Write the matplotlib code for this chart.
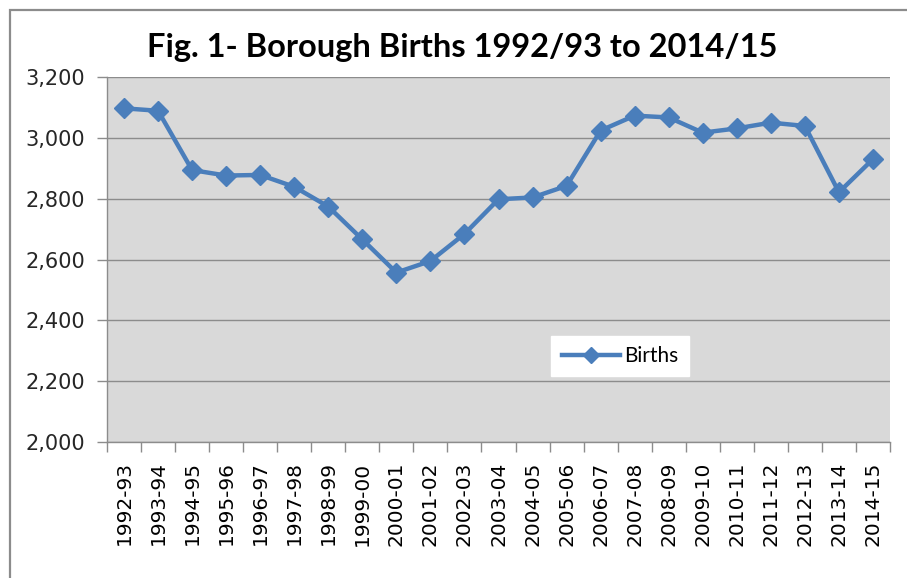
import matplotlib
matplotlib.use("Agg")
import matplotlib.pyplot as plt
from matplotlib.patches import Rectangle
from matplotlib.ticker import FuncFormatter, FixedLocator

categories = ["1992-93", "1993-94", "1994-95", "1995-96", "1996-97", "1997-98",
              "1998-99", "1999-00", "2000-01", "2001-02", "2002-03", "2003-04",
              "2004-05", "2005-06", "2006-07", "2007-08", "2008-09", "2009-10",
              "2010-11", "2011-12", "2012-13", "2013-14", "2014-15"]
births = [3097, 3089, 2894, 2876, 2878, 2839, 2774, 2666, 2557, 2595, 2684, 2798,
          2804, 2842, 3024, 3073, 3067, 3017, 3031, 3050, 3039, 2821, 2930]
y_ticks = [2000, 2200, 2400, 2600, 2800, 3000, 3200]
title = "Fig. 1- Borough Births 1992/93 to 2014/15"

W, H = 907, 578
fig = plt.figure(figsize=(W / 100, H / 100), dpi=100)
fig.patch.set_facecolor("white")

# outer chart border
fig.patches.append(Rectangle((10 / W, -0.1), 1.2, 1 - 10 / H + 0.1,
                             transform=fig.transFigure, fill=False,
                             edgecolor="#8c8c8c", linewidth=1.6, zorder=0))

ax = fig.add_axes([107 / W, 1 - 442 / H, (890 - 107) / W, (442 - 77) / H])
ax.set_facecolor("#d9d9d9")

x = list(range(len(categories)))
line_color = "#4a7ebb"
ax.plot(x, births, color=line_color, linewidth=3.2, marker="D",
        markersize=10.5, markeredgecolor=line_color, markerfacecolor=line_color,
        label="Births", zorder=3)

ax.set_xlim(-0.5, len(categories) - 0.5)
ax.set_ylim(y_ticks[0], y_ticks[-1])
ax.set_yticks(y_ticks)
ax.yaxis.set_major_formatter(FuncFormatter(lambda v, p: f"{int(v):,}"))
ax.grid(axis="y", color="#8c8c8c", linewidth=1.0, zorder=1)
ax.set_axisbelow(True)

ax.set_xticks(x)
ax.set_xticklabels(categories, rotation=90, fontsize=14.5, family="DejaVu Sans")
ax.xaxis.set_minor_locator(FixedLocator([i - 0.5 for i in range(len(categories) + 1)]))
ax.tick_params(axis="x", which="major", length=0, pad=14)
ax.tick_params(axis="x", which="minor", length=7, color="#8c8c8c", width=1)
ax.tick_params(axis="y", length=7, color="#8c8c8c", width=1, pad=9, labelsize=15)
for lab in ax.get_yticklabels():
    lab.set_family("DejaVu Sans")
    lab.set_color("#262626")
for lab in ax.get_xticklabels():
    lab.set_color("#000000")

for s in ["top", "right"]:
    ax.spines[s].set_visible(False)
for s in ["left", "bottom"]:
    ax.spines[s].set_color("#8c8c8c")
    ax.spines[s].set_linewidth(1.0)

fig.text(462 / W, 1 - 47 / H, title, ha="center", va="center",
         fontsize=23.5, fontweight="bold", family="Lato")

leg = ax.legend(loc="center", bbox_to_anchor=((620 - 107) / 783, (442 - 356) / 365),
                frameon=True, fancybox=False, framealpha=1, edgecolor="white",
                prop={"family": "Lato", "size": 15}, handlelength=2.8,
                handletextpad=0.2, borderpad=0.5, markerscale=0.75)
leg.get_frame().set_facecolor("white")

fig.savefig("out.png", dpi=100)
